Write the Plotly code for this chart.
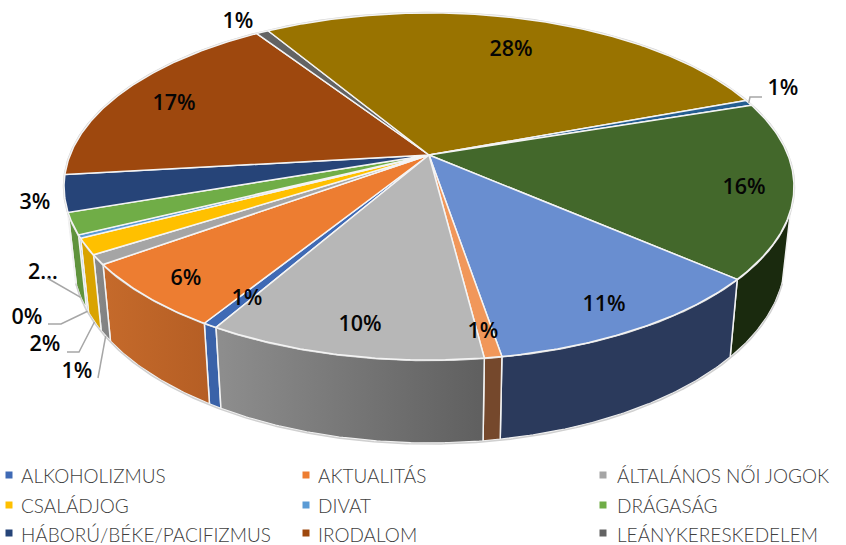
import numpy as np
import plotly.graph_objects as go

categories = ["ALKOHOLIZMUS", "AKTUALITÁS", "ÁLTALÁNOS NŐI JOGOK", "CSALÁDJOG", "DIVAT", "DRÁGASÁG",
              "HÁBORÚ/BÉKE/PACIFIZMUS", "IRODALOM", "LEÁNYKERESKEDELEM", "POLITIKA", "SZOCIÁLIS", "TÁRSADALOM",
              "VALLÁS", "VILÁGNÉZET", "VÁLASZTÓJOG"]
values = [0.55, 6.2, 0.9, 1.5, 0.3, 2.0, 3.4, 17.5, 0.65, 28.05, 0.55, 16.4, 11.0, 0.65, 10.35]
value_labels = ["1%", "6%", "1%", "2%", "0%", "2…", "3%", "17%", "1%", "28%", "1%", "16%", "11%", "1%", "10%"]
legend_count = 9

top_colors = ["#3f6ab5", "#ed7d31", "#a5a5a5", "#ffc000", "#5b9bd5", "#70ad47", "#264478", "#9e480e", "#636363",
              "#997300", "#255e91", "#43682b", "#698ed0", "#f1975a", "#b7b7b7"]
side_left = ["#3a62a8", "#c56a2b", "#8a8a8a", "#d9a300", "#4f86b8", "#5f933c", "#203a66", "#86400c", "#555555",
             "#826200", "#204f7b", "#1a2a0e", "#2b3a5c", "#75482c", "#8e8e8e"]
side_right = ["#3a62a8", "#b55e24", "#808080", "#d9a300", "#4f86b8", "#5f933c", "#203a66", "#86400c", "#555555",
              "#826200", "#204f7b", "#1a2a0e", "#2b3a5c", "#75482c", "#5f5f5f"]

# geometry of the tilted disc, in page pixels
CX, CY, A, B, K = 429.0, 155.0, 358.9, 167.8, 0.1816
START = 210.0
SIDE_FROM, SIDE_TO = 108.0, 252.0
SHRINK = 0.977


def rim(theta):
    t = np.radians(theta)
    u, v = np.sin(t), -np.cos(t)
    w = 1 - K * v
    return CX + A * u / w, CY + B * v / w, v


def floor(theta):
    x, y, v = rim(theta)
    return CX + (x - CX) * SHRINK, y + 68 + 15 * v


shares = np.array(values) / sum(values) * 360
starts = START + np.concatenate([[0], np.cumsum(shares)[:-1]])
ends = starts + shares

fig = go.Figure()

# side walls
for s, e, c1, c2 in zip(starts, ends, side_left, side_right):
    for shift in (0, 360):
        a, b = max(s - shift, SIDE_FROM), min(e - shift, SIDE_TO)
        if b <= a:
            continue
        th = np.linspace(a, b, max(3, int((b - a) * 2)))
        xt, yt, _ = rim(th)
        xb, yb = floor(th[::-1])
        fig.add_trace(go.Scatter(
            x=np.r_[xt, xb, xt[0]], y=np.r_[yt, yb, yt[0]], mode="lines", fill="toself",
            fillgradient=dict(type="horizontal", colorscale=[[0, c1], [1, c2]]),
            line=dict(color="#f2f2f2", width=1.5), hoverinfo="skip"))

# outer light outline
th_all = np.linspace(SIDE_TO, SIDE_FROM, 400)
xb, yb = floor(th_all)
fig.add_trace(go.Scatter(x=xb, y=yb + 1, mode="lines", line=dict(color="#d0d0d0", width=1.5), hoverinfo="skip"))
th_full = np.linspace(0, 360, 720)
xr, yr, _ = rim(th_full)
fig.add_trace(go.Scatter(x=xr, y=yr, mode="lines", line=dict(color="#d4d4d4", width=2.5), hoverinfo="skip"))

# top face
for s, e, c in zip(starts, ends, top_colors):
    th = np.linspace(s, e, max(3, int((e - s) * 2)))
    xt, yt, _ = rim(th)
    fig.add_trace(go.Scatter(
        x=np.r_[CX, xt, CX], y=np.r_[CY, yt, CY], mode="lines", fill="toself", fillcolor=c,
        line=dict(color="#f4f4f4", width=1.5), hoverinfo="skip"))

# data labels (page pixel positions of the text)
label_xy = [(247, 300), (186, 280), (77, 373), (45, 346), (27, 319), (43, 274), (35, 204), (174, 105), (238, 23),
            (511, 51), (783, 90), (744, 189), (604, 306), (483, 333), (360, 326)]
fig.add_trace(go.Scatter(
    x=[p[0] for p in label_xy], y=[p[1] for p in label_xy], mode="text", text=value_labels,
    textposition="middle center", textfont=dict(family="Open Sans", size=21.5, color="#050505", weight=600),
    hoverinfo="skip"))

# leader lines: bend points in page pixels, ending on the slice they belong to
mids = (starts + ends) / 2
leaders = {2: ("floor", [(98, 378)]), 3: ("floor", [(67, 352), (79, 352)]), 4: ("floor", [(48, 324), (61, 324)]),
           5: ("floor", [(47, 278)]), 10: ("rim", [(762, 97), (750, 97)])}
for i, (kind, pts) in leaders.items():
    m = mids[i] % 360
    ex, ey = floor(m) if kind == "floor" else rim(m)[:2]
    fig.add_trace(go.Scatter(x=[p[0] for p in pts] + [float(ex)], y=[p[1] for p in pts] + [float(ey)],
                             mode="lines", line=dict(color="#a6a6a6", width=1.5), hoverinfo="skip"))

# legend
marker_x = [9, 306, 603]
marker_y = [475, 505, 533]
text_x = [21, 318, 617]
text_y = [478, 508, 537]
for i in range(legend_count):
    fig.add_trace(go.Scatter(
        x=[marker_x[i % 3]], y=[marker_y[i // 3]], mode="markers",
        marker=dict(symbol="square", size=7, color=top_colors[i]), hoverinfo="skip"))
    fig.add_trace(go.Scatter(
        x=[text_x[i % 3]], y=[text_y[i // 3]], mode="text", text=[categories[i]],
        textposition="middle right",
        textfont=dict(family="Lato", size=19, color="#404040", weight=300), hoverinfo="skip"))

fig.update_layout(
    width=846, height=545, margin=dict(l=0, r=0, t=0, b=0), showlegend=False,
    paper_bgcolor="white", plot_bgcolor="white",
    xaxis=dict(range=[0, 846], visible=False, fixedrange=True),
    yaxis=dict(range=[545, 0], visible=False, fixedrange=True))
fig.write_html("out.html", config=dict(displayModeBar=False),
               post_script="document.body.style.margin='0';document.body.style.overflow='hidden';")
